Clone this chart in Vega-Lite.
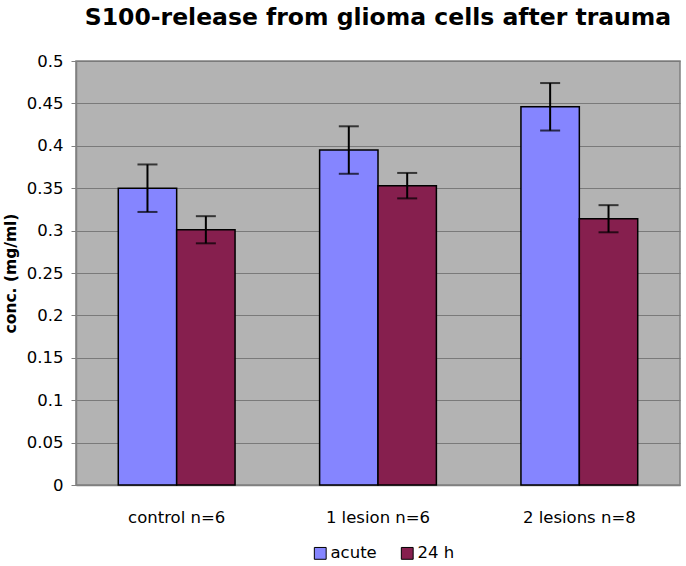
{
  "$schema": "https://vega.github.io/schema/vega-lite/v6.json",
  "autosize": {"type": "none"},
  "padding": {"left": 76, "top": 61, "right": 6, "bottom": 81},
  "width": 604,
  "height": 424,
  "background": "white",
  "title": {
    "text": "S100-release from glioma cells after trauma",
    "font": "DejaVu Sans",
    "fontSize": 23.5,
    "fontWeight": "bold",
    "color": "black",
    "anchor": "middle",
    "offset": 24
  },
  "config": {
    "view": {"fill": "#b3b3b3", "stroke": "#808080", "strokeWidth": 1.5},
    "axis": {"labelFont": "DejaVu Sans", "labelColor": "black", "titleFont": "DejaVu Sans", "titleColor": "black"}
  },
  "data": {
    "values": [
      {"group": "control n=6", "series": "acute", "value": 0.350, "lo": 0.322, "hi": 0.378},
      {"group": "control n=6", "series": "24 h", "value": 0.301, "lo": 0.285, "hi": 0.317},
      {"group": "1 lesion n=6", "series": "acute", "value": 0.395, "lo": 0.367, "hi": 0.423},
      {"group": "1 lesion n=6", "series": "24 h", "value": 0.353, "lo": 0.338, "hi": 0.368},
      {"group": "2 lesions n=8", "series": "acute", "value": 0.446, "lo": 0.418, "hi": 0.474},
      {"group": "2 lesions n=8", "series": "24 h", "value": 0.314, "lo": 0.298, "hi": 0.330}
    ]
  },
  "encoding": {
    "x": {
      "field": "group", "type": "nominal", "sort": null,
      "scale": {"paddingInner": 0.42, "paddingOuter": 0.21},
      "axis": {"title": null, "labelAngle": 0, "labelFontSize": 16.5, "labelPadding": 24, "ticks": false, "domainColor": "#808080", "domainWidth": 1.5}
    },
    "xOffset": {"field": "series", "type": "nominal", "sort": ["acute", "24 h"], "scale": {"paddingInner": 0, "paddingOuter": 0}}
  },
  "layer": [
    {
      "mark": {"type": "bar", "stroke": "black", "strokeWidth": 1.5},
      "encoding": {
        "y": {
          "field": "value", "type": "quantitative",
          "scale": {"domain": [0, 0.5], "nice": false},
          "axis": {
            "title": "conc. (mg/ml)", "titleFontSize": 15.5, "titleFontWeight": "bold", "titlePadding": 8,
            "values": [0, 0.05, 0.1, 0.15, 0.2, 0.25, 0.3, 0.35, 0.4, 0.45, 0.5],
            "format": "~g", "labelFontSize": 16.5, "labelPadding": 8, "tickSize": 5,
            "tickColor": "#808080", "domainColor": "#808080", "domainWidth": 1.5,
            "grid": true, "gridColor": "#7a7a7a", "gridWidth": 1
          }
        },
        "color": {
          "field": "series", "type": "nominal",
          "scale": {"domain": ["acute", "24 h"], "range": ["#8585ff", "#861f4e"]},
          "legend": {
            "title": null, "orient": "none", "direction": "horizontal",
            "legendX": 236, "legendY": 484,
            "symbolType": "square", "symbolSize": 140, "symbolStrokeColor": "black", "symbolStrokeWidth": 1,
            "symbolOpacity": 1, "labelFont": "DejaVu Sans", "labelFontSize": 16.5, "labelColor": "black",
            "labelOffset": 2, "columnPadding": 22
          }
        }
      }
    },
    {
      "mark": {"type": "rule", "color": "black", "strokeWidth": 2},
      "encoding": {"y": {"field": "lo", "type": "quantitative"}, "y2": {"field": "hi"}}
    },
    {
      "mark": {"type": "tick", "color": "black", "thickness": 2, "size": 20},
      "encoding": {"y": {"field": "lo", "type": "quantitative"}}
    },
    {
      "mark": {"type": "tick", "color": "black", "thickness": 2, "size": 20},
      "encoding": {"y": {"field": "hi", "type": "quantitative"}}
    }
  ]
}
